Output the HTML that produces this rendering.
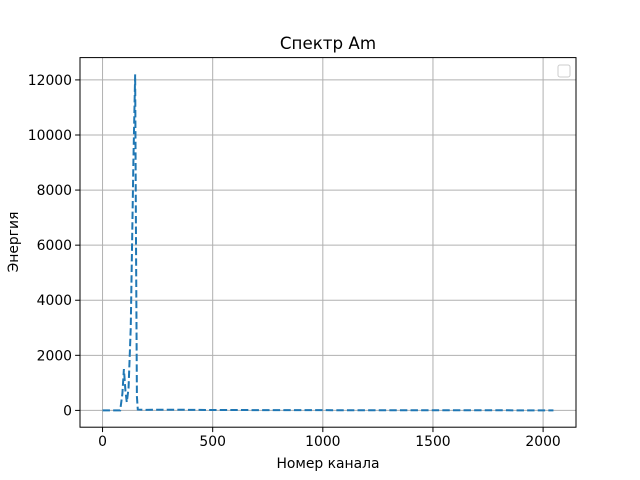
<!DOCTYPE html>
<html><head><meta charset="utf-8"><style>body{margin:0;background:#fff}svg{display:block}</style></head>
<body>
<svg id="c" width="640" height="480" xmlns="http://www.w3.org/2000/svg" font-family="'DejaVu Sans','Liberation Sans',sans-serif">
<rect x="80" y="57.6" width="496" height="369.6" fill="#fff"/>
<g id="grid"></g>
<g id="ticks"></g>
<path id="line" fill="none" stroke="#1f77b4" stroke-width="2" stroke-dasharray="7.4,3.2"/>
<rect x="80" y="57.6" width="496" height="369.6" fill="none" stroke="#000" stroke-width="1"/>
<rect x="558" y="65" width="12" height="12" rx="2" fill="#fff" stroke="#ccc"/>
<text x="328" y="49" text-anchor="middle" font-size="16.7">Спектр Am</text>
<text x="328" y="468" text-anchor="middle" font-size="13.9">Номер канала</text>
<text transform="translate(18,242) rotate(-90)" text-anchor="middle" font-size="13.9">Энергия</text>
</svg>
<script>
const channels=[0,80,90,97,104,110,118,128,140,148,152,156,160,200,300,500,800,1000,1300,1600,1900,2047];
const counts=[0,0,600,1500,700,300,800,3000,9000,12200,6000,500,30,20,25,15,10,8,5,5,3,0];
const xTicks=[0,500,1000,1500,2000];
const yTicks=[0,2000,4000,6000,8000,10000,12000];
const X0=80,X1=576,Y0=427.2,Y1=57.6;
const xmin=-102.35,xmax=2149.35,ymin=-610,ymax=12810;
const sx=v=>X0+(v-xmin)/(xmax-xmin)*(X1-X0);
const sy=v=>Y0-(v-ymin)/(ymax-ymin)*(Y0-Y1);
const NS='http://www.w3.org/2000/svg';
const grid=document.getElementById('grid'),tk=document.getElementById('ticks');
function mk(tag,at,parent){const e=document.createElementNS(NS,tag);for(const k in at)e.setAttribute(k,at[k]);parent.appendChild(e);return e;}
xTicks.forEach(v=>{const x=sx(v);
 const g=mk('line',{x1:x,x2:x,y1:Y1,y2:Y0,stroke:'#b0b0b0','stroke-width':1},grid);
 
 
 mk('line',{x1:x,x2:x,y1:Y0,y2:Y0+4.9,stroke:'#000','stroke-width':1},tk);
 const t=mk('text',{x:x,y:Y0+19,'text-anchor':'middle','font-size':13.9},tk);t.textContent=v;
 
 });
yTicks.forEach(v=>{const y=sy(v);
 const g=mk('line',{x1:X0,x2:X1,y1:y,y2:y,stroke:'#b0b0b0','stroke-width':1},grid);
 
 
 mk('line',{x1:X0-4.9,x2:X0,y1:y,y2:y,stroke:'#000','stroke-width':1},tk);
 const t=mk('text',{x:X0-8,y:y+5,'text-anchor':'end','font-size':13.9},tk);t.textContent=v;
 
 });
document.getElementById('line').setAttribute('d',channels.map((c,i)=>(i?'L':'M')+sx(c).toFixed(2)+','+sy(counts[i]).toFixed(2)).join(''));
</script>
</body></html>
